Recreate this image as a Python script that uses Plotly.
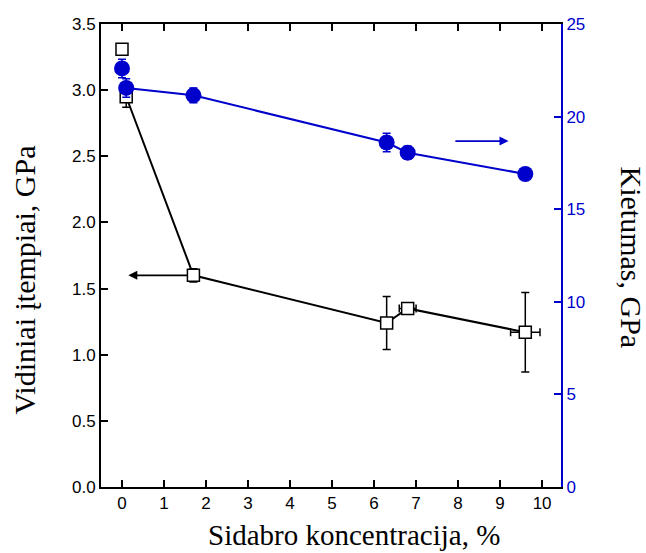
import plotly.graph_objects as go

# Residual stress (left axis)
stress_x = [0.0, 0.1, 1.7, 6.3, 6.8, 9.6]
stress_y = [3.31, 2.95, 1.60, 1.24, 1.35, 1.17]
stress_err = [0.03, 0.08, 0.05, 0.20, 0.02, 0.30]
stress_xerr = [0.0, 0.0, 0.0, 0.0, 0.2, 0.35]

# Hardness (right axis)
hard_x = [0.0, 0.1, 1.7, 6.3, 6.8, 9.6]
hard_y = [22.6, 21.55, 21.15, 18.6, 18.05, 16.9]
hard_err = [0.5, 0.5, 0.4, 0.5, 0.35, 0.0]

BLUE = "#0000CC"
fig = go.Figure()

fig.add_trace(go.Scatter(x=stress_x[1:], y=stress_y[1:], mode="lines",
                         line=dict(color="black", width=2), showlegend=False, hoverinfo="skip"))
fig.add_trace(go.Scatter(x=stress_x, y=stress_y, mode="markers",
                         marker=dict(symbol="square", size=12, color="white",
                                     line=dict(color="black", width=1.5)),
                         error_y=dict(type="data", array=stress_err, color="black", thickness=1.5, width=4),
                         error_x=dict(type="data", array=stress_xerr, color="black", thickness=1.5, width=4),
                         showlegend=False))

fig.add_trace(go.Scatter(x=hard_x[1:], y=hard_y[1:], mode="lines", yaxis="y2",
                         line=dict(color=BLUE, width=2), showlegend=False, hoverinfo="skip"))
fig.add_trace(go.Scatter(x=hard_x, y=hard_y, mode="markers", yaxis="y2",
                         marker=dict(symbol="circle", size=16, color=BLUE),
                         error_y=dict(type="data", array=hard_err, color=BLUE, thickness=1.5, width=4),
                         showlegend=False))

fig.add_annotation(x=0.15, y=1.6, ax=1.6, ay=1.6, xref="x", yref="y", axref="x", ayref="y",
                   showarrow=True, arrowhead=2, arrowsize=1, arrowwidth=1.8, arrowcolor="black", text="")
fig.add_annotation(x=9.2, y=18.68, ax=7.9, ay=18.68, xref="x", yref="y2", axref="x", ayref="y2",
                   showarrow=True, arrowhead=2, arrowsize=1, arrowwidth=1.8, arrowcolor=BLUE, text="")

# axis titles
fig.add_annotation(x=1.0, y=0.5, xref="paper", yref="paper", xanchor="center", yanchor="middle",
                   xshift=70, yshift=-2, showarrow=False, text="Kietumas, GPa", textangle=90,
                   font=dict(family="Liberation Serif", size=30, color="black"))
fig.add_annotation(x=0.0, y=0.5, xref="paper", yref="paper", xanchor="center", yanchor="middle",
                   xshift=-77, yshift=-25, showarrow=False, text="Vidiniai įtempiai, GPa", textangle=-90,
                   font=dict(family="Liberation Serif", size=30, color="black"))
fig.add_annotation(x=0.5, y=0.0, xref="paper", yref="paper", xanchor="center", yanchor="bottom",
                   yshift=-65, xshift=23, showarrow=False, text="Sidabro koncentracija, %",
                   borderpad=0, font=dict(family="Liberation Serif", size=29, color="black"))

tickfont = dict(family="Liberation Sans", size=17, color="black")
fig.update_layout(
    width=646, height=553,
    margin=dict(l=101, r=85, t=24, b=66),
    plot_bgcolor="white", paper_bgcolor="white",
    xaxis=dict(range=[-0.5, 10.45], tickvals=list(range(0, 11)), ticks="inside", ticklen=7,
               tickwidth=2, tickcolor="black", showline=True, linecolor="black", linewidth=2,
               mirror="ticks", showgrid=False, zeroline=False, tickfont=tickfont),
    yaxis=dict(range=[0, 3.5], tickvals=[0, 0.5, 1, 1.5, 2, 2.5, 3, 3.5],
               ticktext=["0.0", "0.5", "1.0", "1.5", "2.0", "2.5", "3.0", "3.5"],
               ticks="inside", ticklen=7, tickwidth=2, tickcolor="black",
               showline=True, linecolor="black", linewidth=2, showgrid=False, zeroline=False,
               tickfont=tickfont),
    yaxis2=dict(range=[0, 25], tickvals=[0, 5, 10, 15, 20, 25], overlaying="y", side="right",
                ticks="inside", ticklen=7, tickwidth=2, tickcolor=BLUE,
                showline=True, linecolor=BLUE, linewidth=2, showgrid=False, zeroline=False,
                tickfont=dict(family="Liberation Sans", size=17, color=BLUE)),
)

fig.write_html("out.html")
